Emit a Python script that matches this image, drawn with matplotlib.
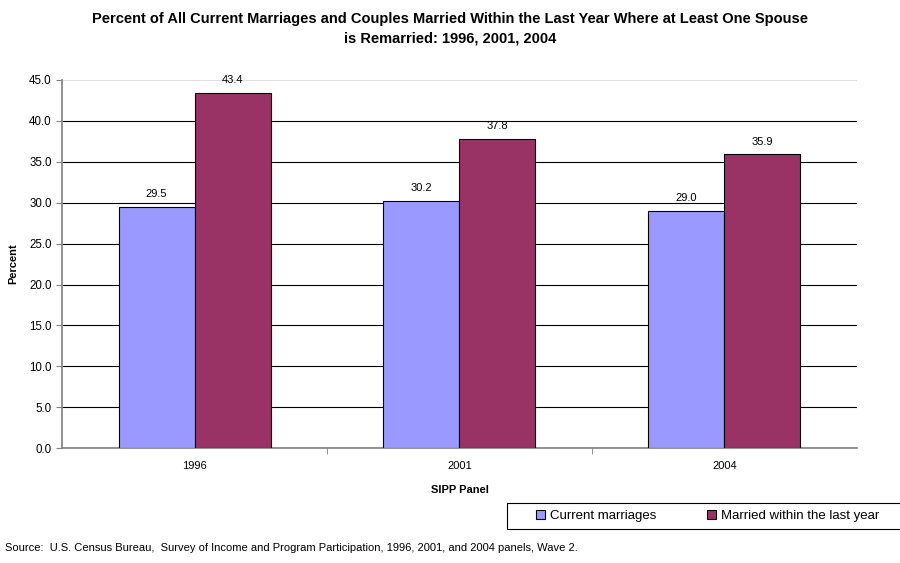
import numpy as np
import matplotlib.pyplot as plt
from matplotlib.patches import Rectangle

plt.rcParams['font.family'] = ['Liberation Sans', 'DejaVu Sans']

years = ['1996', '2001', '2004']
current = [29.5, 30.2, 29.0]
recent = [43.4, 37.8, 35.9]
series_names = ['Current marriages', 'Married within the last year']
colors = ['#9999FF', '#993366']

fig = plt.figure(figsize=(9, 5.63), dpi=100)
ax = fig.add_axes([0.069, 0.204, 0.883, 0.654])

x = np.arange(len(years))
w = 0.287
b1 = ax.bar(x - w / 2, current, w, color=colors[0], edgecolor='black', linewidth=0.8,
            label=series_names[0], zorder=3)
b2 = ax.bar(x + w / 2, recent, w, color=colors[1], edgecolor='black', linewidth=0.8,
            label=series_names[1], zorder=3)
ax.bar_label(b1, fmt='%.1f', padding=5.5, fontsize=8)
ax.bar_label(b2, fmt='%.1f', padding=5.5, fontsize=8)

ax.set_xlim(-0.5, 2.5)
ax.set_ylim(0, 45)
ax.set_yticks(np.arange(0, 46, 5))
ax.set_yticklabels([f'{v:.1f}' for v in np.arange(0, 46, 5)], fontsize=8.3)
ax.yaxis.grid(True, color='black', linewidth=0.8, zorder=0)
ax.get_ygridlines()[-1].set_color('#e0e0e0')
ax.set_axisbelow(True)

ax.set_xticks(x)
ax.set_xticklabels(years, fontsize=8)
ax.tick_params(axis='x', which='major', length=0, pad=9)
ax.set_xticks([0.5, 1.5], minor=True)
ax.tick_params(axis='x', which='minor', length=4, color='#808080')
ax.tick_params(axis='y', length=4, color='#808080')

for s in ['top', 'right']:
    ax.spines[s].set_visible(False)
for s in ['left', 'bottom']:
    ax.spines[s].set_color('#808080')
    ax.spines[s].set_linewidth(1.2)

ax.set_xlabel('SIPP Panel', fontsize=8, fontweight='bold', labelpad=10)
ax.set_ylabel('Percent', fontsize=8, fontweight='bold', labelpad=8)

fig.suptitle('Percent of All Current Marriages and Couples Married Within the Last Year Where at Least One Spouse\n'
             'is Remarried: 1996, 2001, 2004', fontsize=10.5, fontweight='bold', y=0.978, linespacing=1.5)

# legend box runs off the right edge like the original
fig.patches.append(Rectangle((0.5633, 0.0604), 0.46, 0.0462, transform=fig.transFigure,
                             facecolor='white', edgecolor='black', linewidth=0.8))
leg = fig.legend(loc='center left', bbox_to_anchor=(0.595, 0.0835), ncol=2, fontsize=9.5,
                 frameon=False, handlelength=0.7, handleheight=0.7, columnspacing=3.8,
                 handletextpad=0.4, borderpad=0, borderaxespad=0)

fig.text(0.006, 0.027, 'Source:  U.S. Census Bureau,  Survey of Income and Program Participation, 1996, 2001, and 2004 panels, Wave 2.',
         fontsize=8, va='center', ha='left')

fig.savefig('out.png', dpi=100)
